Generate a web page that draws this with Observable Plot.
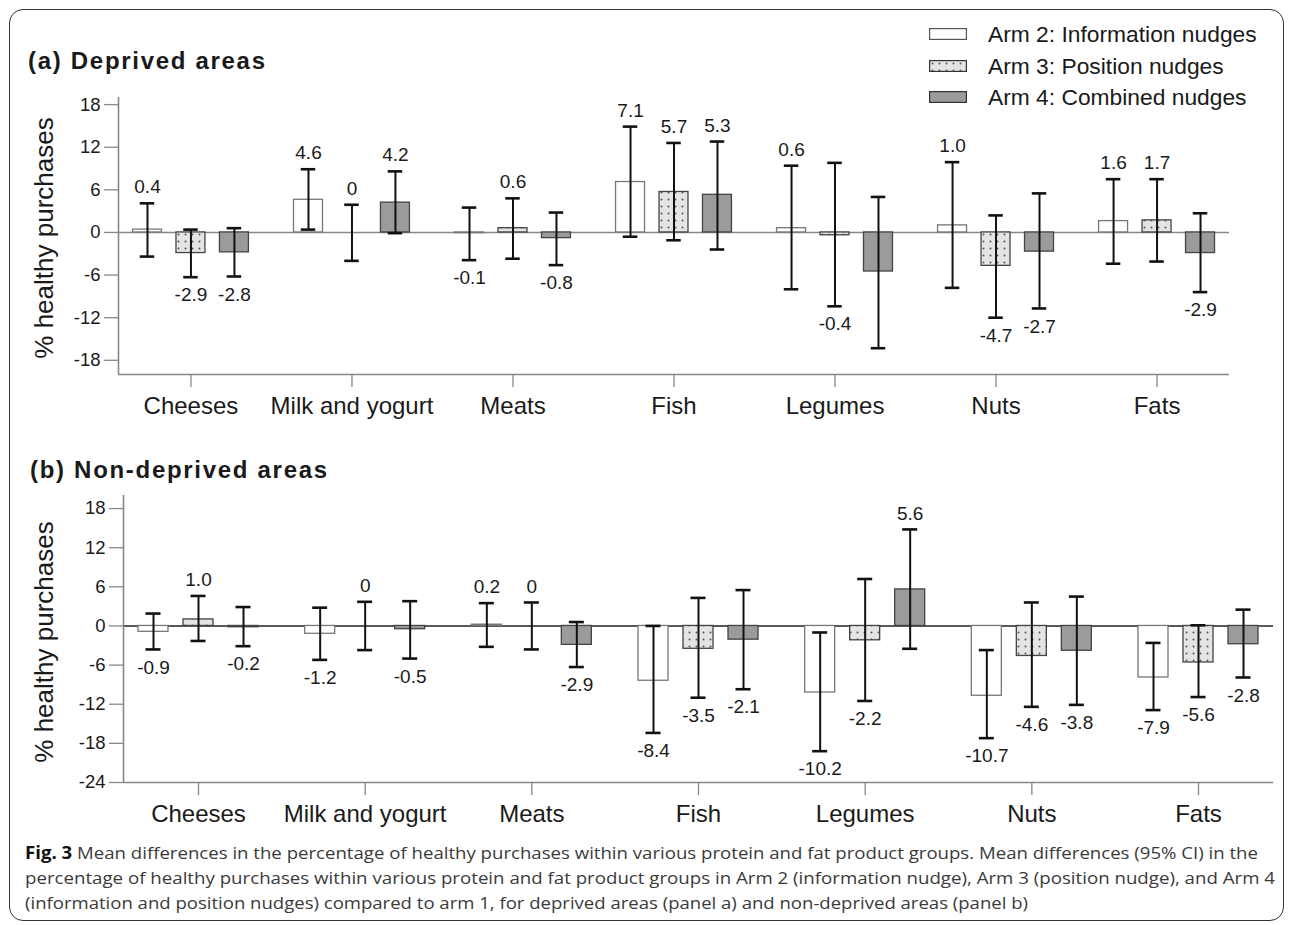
<!DOCTYPE html>
<html>
<head>
<meta charset="utf-8">
<script src="https://cdn.jsdelivr.net/npm/d3@7"></script>
<script src="https://cdn.jsdelivr.net/npm/@observablehq/plot@0.6"></script>
<style>
  html, body { margin: 0; padding: 0; background: #fff; }
  body { width: 1292px; height: 925px; position: relative; overflow: hidden; font-family: "Liberation Sans", Arial, sans-serif; color: #1a1a1a; }
  .frame { position: absolute; left: 9px; top: 9px; width: 1275px; height: 912px; border: 1.5px solid #333; border-radius: 14px; box-sizing: border-box; }
  .panel { position: absolute; left: 0; }
  .ptitle { position: absolute; font-weight: bold; font-size: 24px; letter-spacing: 1.7px; line-height: 30px; white-space: nowrap; color: #1a1a1a; }
  .ytitle { position: absolute; font-size: 26px; white-space: nowrap; transform: translate(-50%, -50%) rotate(-90deg); color: #1a1a1a; font-family: "Liberation Sans", Arial, sans-serif; }
  .legend { position: absolute; left: 929px; top: 19px; }
  .legend .item { position: absolute; left: 0; white-space: nowrap; height: 30px; }
  .legend .item svg { position: absolute; left: 0; top: 9px; }
  .legend .item span { position: absolute; left: 59px; top: 0; font-size: 22.8px; line-height: 30px; color: #1a1a1a; }
  #caption { position: absolute; left: 0; top: 0; }
</style>
</head>
<body>
<svg width="0" height="0" style="position:absolute">
  <defs>
    <pattern id="dots" patternUnits="userSpaceOnUse" width="7" height="7">
      <rect width="7" height="7" fill="#e4e4e4"></rect>
      <circle cx="3.5" cy="3.5" r="1" fill="#555"></circle>
    </pattern>
  </defs>
</svg>
<div class="frame"></div>
<div id="app"></div>
<script>
// ---------- data ----------
const categories = ["Cheeses", "Milk and yogurt", "Meats", "Fish", "Legumes", "Nuts", "Fats"];
const arms = ["Arm 2: Information nudges", "Arm 3: Position nudges", "Arm 4: Combined nudges"];

// (a) Deprived areas
const depArm2Mean = [0.4, 4.6, -0.1, 7.1, 0.6, 1.0, 1.6];
const depArm2Low  = [-3.4, 0.4, -3.9, -0.6, -8.0, -7.8, -4.4];
const depArm2High = [4.1, 8.9, 3.5, 14.9, 9.4, 9.9, 7.5];
const depArm2Labels = ["0.4", "4.6", "-0.1", "7.1", "0.6", "1.0", "1.6"];

const depArm3Mean = [-2.9, 0, 0.6, 5.7, -0.4, -4.7, 1.7];
const depArm3Low  = [-6.3, -4.0, -3.7, -1.1, -10.4, -12.0, -4.1];
const depArm3High = [0.4, 3.9, 4.8, 12.6, 9.8, 2.4, 7.5];
const depArm3Labels = ["-2.9", "0", "0.6", "5.7", "-0.4", "-4.7", "1.7"];

const depArm4Mean = [-2.8, 4.2, -0.8, 5.3, -5.5, -2.7, -2.9];
const depArm4Low  = [-6.2, -0.1, -4.6, -2.4, -16.3, -10.7, -8.4];
const depArm4High = [0.6, 8.6, 2.8, 12.8, 5.0, 5.5, 2.7];
const depArm4Labels = ["-2.8", "4.2", "-0.8", "5.3", "", "-2.7", "-2.9"];

// (b) Non-deprived areas
const nonArm2Mean = [-0.9, -1.2, 0.2, -8.4, -10.2, -10.7, -7.9];
const nonArm2Low  = [-3.6, -5.2, -3.2, -16.4, -19.2, -17.2, -12.9];
const nonArm2High = [1.9, 2.8, 3.5, 0.0, -1.0, -3.7, -2.6];
const nonArm2Labels = ["-0.9", "-1.2", "0.2", "-8.4", "-10.2", "-10.7", "-7.9"];

const nonArm3Mean = [1.0, 0, 0, -3.5, -2.2, -4.6, -5.6];
const nonArm3Low  = [-2.3, -3.7, -3.6, -11.0, -11.5, -12.4, -10.9];
const nonArm3High = [4.6, 3.7, 3.6, 4.3, 7.2, 3.6, 0.1];
const nonArm3Labels = ["1.0", "0", "0", "-3.5", "-2.2", "-4.6", "-5.6"];

const nonArm4Mean = [-0.2, -0.5, -2.9, -2.1, 5.6, -3.8, -2.8];
const nonArm4Low  = [-3.1, -5.0, -6.3, -9.7, -3.5, -12.1, -7.9];
const nonArm4High = [2.9, 3.8, 0.6, 5.5, 14.8, 4.5, 2.5];
const nonArm4Labels = ["-0.2", "-0.5", "-2.9", "-2.1", "5.6", "-3.8", "-2.8"];

const depTicks = [18, 12, 6, 0, -6, -12, -18];
const nonTicks = [18, 12, 6, 0, -6, -12, -18, -24];

const panelTitles = ["(a) Deprived areas", "(b) Non-deprived areas"];
const yTitle = "% healthy purchases";
const captionLines = [
  ["Fig. 3", " Mean differences in the percentage of healthy purchases within various protein and fat product groups. Mean differences (95% CI) in the"],
  ["", "percentage of healthy purchases within various protein and fat product groups in Arm 2 (information nudge), Arm 3 (position nudge), and Arm 4"],
  ["", "(information and position nudges) compared to arm 1, for deprived areas (panel a) and non-deprived areas (panel b)"]
];

// ---------- build ----------
const armOffset = [-0.27, 0, 0.27];
const barHalf = 0.09;
const capHalf = 0.045;
const xDomain = [-0.45, 6.45];
const armFill = ["#ffffff", "url(#dots)", "#9b9b9b"];
const armStroke = ["#777777", "#444444", "#444444"];

function buildRows(series) {
  const rows = [];
  series.forEach(([mean, low, high, labels], j) => {
    categories.forEach((c, i) => {
      rows.push({cat: c, i, arm: arms[j], j, x: i + armOffset[j], mean: mean[i], lo: low[i], hi: high[i], label: labels[i]});
    });
  });
  return rows;
}

const depRows = buildRows([
  [depArm2Mean, depArm2Low, depArm2High, depArm2Labels],
  [depArm3Mean, depArm3Low, depArm3High, depArm3Labels],
  [depArm4Mean, depArm4Low, depArm4High, depArm4Labels]
]);
const nonRows = buildRows([
  [nonArm2Mean, nonArm2Low, nonArm2High, nonArm2Labels],
  [nonArm3Mean, nonArm3Low, nonArm3High, nonArm3Labels],
  [nonArm4Mean, nonArm4Low, nonArm4High, nonArm4Labels]
]);

function panel({rows, yDomain, yTicks, zeroColor, height, marginTop, marginBottom, marginLeft, marginRight}) {
  const barMarks = [0, 1, 2].map(j => Plot.rect(rows.filter(d => d.j === j), {
    x1: d => d.x - barHalf, x2: d => d.x + barHalf,
    y1: () => 0, y2: "mean",
    fill: armFill[j], stroke: armStroke[j], strokeWidth: 1.3
  }));
  return Plot.plot({
    width: 1292, height, marginTop, marginBottom, marginLeft, marginRight,
    style: {fontFamily: "'Liberation Sans', Arial, sans-serif", color: "#1a1a1a", background: "transparent", overflow: "visible"},
    x: {type: "linear", domain: xDomain, axis: null},
    y: {domain: yDomain, axis: null},
    marks: [
      Plot.ruleY([0], {stroke: zeroColor, strokeWidth: 1.6}),
      ...barMarks,
      Plot.ruleX(rows, {x: "x", y1: "lo", y2: "hi", stroke: "#111", strokeWidth: 2}),
      Plot.ruleY(rows, {y: "lo", x1: d => d.x - capHalf, x2: d => d.x + capHalf, stroke: "#111", strokeWidth: 2.6}),
      Plot.ruleY(rows, {y: "hi", x1: d => d.x - capHalf, x2: d => d.x + capHalf, stroke: "#111", strokeWidth: 2.6}),
      Plot.text(rows.filter(d => d.label && d.mean >= 0), {x: "x", y: "hi", text: "label", dy: -16, fontSize: 19, fill: "#1a1a1a"}),
      Plot.text(rows.filter(d => d.label && d.mean < 0), {x: "x", y: "lo", text: "label", dy: 18, fontSize: 19, fill: "#1a1a1a"}),
      Plot.ruleX([xDomain[0]], {stroke: "#888", strokeWidth: 1.6}),
      Plot.ruleY([yDomain[0]], {stroke: "#888", strokeWidth: 1.6}),
      Plot.axisY({ticks: yTicks, tickFormat: d => String(d), tickSize: 14, tickPadding: 4, fontSize: 18.5, stroke: "#888", strokeWidth: 1.3, label: null}),
      Plot.axisX({ticks: d3.range(categories.length), tickFormat: i => categories[i], tickSize: 13, tickPadding: 9, fontSize: 24, stroke: "#888", strokeWidth: 1.3, label: null})
    ]
  });
}

const app = document.getElementById("app");

const svgA = panel({rows: depRows, yDomain: [-20, 19], yTicks: depTicks, zeroColor: "#888",
  height: 425, marginTop: 97, marginBottom: 51, marginLeft: 118, marginRight: 63});
svgA.classList.add("panel");
svgA.style.top = "0px";
app.appendChild(svgA);

const svgB = panel({rows: nonRows, yDomain: [-24, 20], yTicks: nonTicks, zeroColor: "#222",
  height: 400, marginTop: 55, marginBottom: 58, marginLeft: 123, marginRight: 19});
svgB.classList.add("panel");
svgB.style.top = "440px";
app.appendChild(svgB);

// titles
[[panelTitles[0], 28, 46], [panelTitles[1], 30, 455]].forEach(([t, l, tp]) => {
  const d = document.createElement("div");
  d.className = "ptitle"; d.textContent = t;
  d.style.left = l + "px"; d.style.top = tp + "px";
  app.appendChild(d);
});
[[44, 238], [44, 642]].forEach(([l, tp]) => {
  const d = document.createElement("div");
  d.className = "ytitle"; d.textContent = yTitle;
  d.style.left = l + "px"; d.style.top = tp + "px";
  app.appendChild(d);
});

// legend
const leg = document.createElement("div");
leg.className = "legend";
arms.forEach((a, j) => {
  const it = document.createElement("div");
  it.className = "item";
  it.style.top = (j * 31.5) + "px";
  it.innerHTML = `<svg width="38" height="12"><rect x="0.6" y="0.6" width="36.8" height="10.8" fill="${armFill[j]}" stroke="${j === 0 ? '#555' : '#333'}" stroke-width="1.2"></rect></svg><span></span>`;
  it.querySelector("span").textContent = a;
  leg.appendChild(it);
});
app.appendChild(leg);

// caption
const ns = "http://www.w3.org/2000/svg";
const cap = document.createElementNS(ns, "svg");
cap.setAttribute("id", "caption");
cap.setAttribute("width", 1292);
cap.setAttribute("height", 925);
const baselines = [859, 884, 909];
const lineWidths = [1233, 1250, 1003];
captionLines.forEach(([b, rest], k) => {
  const t = document.createElementNS(ns, "text");
  t.setAttribute("x", 25);
  t.setAttribute("y", baselines[k]);
  t.setAttribute("font-family", "'Open Sans', 'Noto Sans', sans-serif");
  t.setAttribute("font-size", 17);
  t.setAttribute("fill", "#3a3a3a");
  t.setAttribute("textLength", lineWidths[k]);
  t.setAttribute("lengthAdjust", "spacingAndGlyphs");
  if (b) {
    const tb = document.createElementNS(ns, "tspan");
    tb.setAttribute("font-weight", "bold");
    tb.setAttribute("fill", "#111");
    tb.textContent = b;
    t.appendChild(tb);
  }
  const tr = document.createElementNS(ns, "tspan");
  tr.textContent = rest;
  t.appendChild(tr);
  cap.appendChild(t);
});
app.appendChild(cap);
</script>
</body>
</html>
